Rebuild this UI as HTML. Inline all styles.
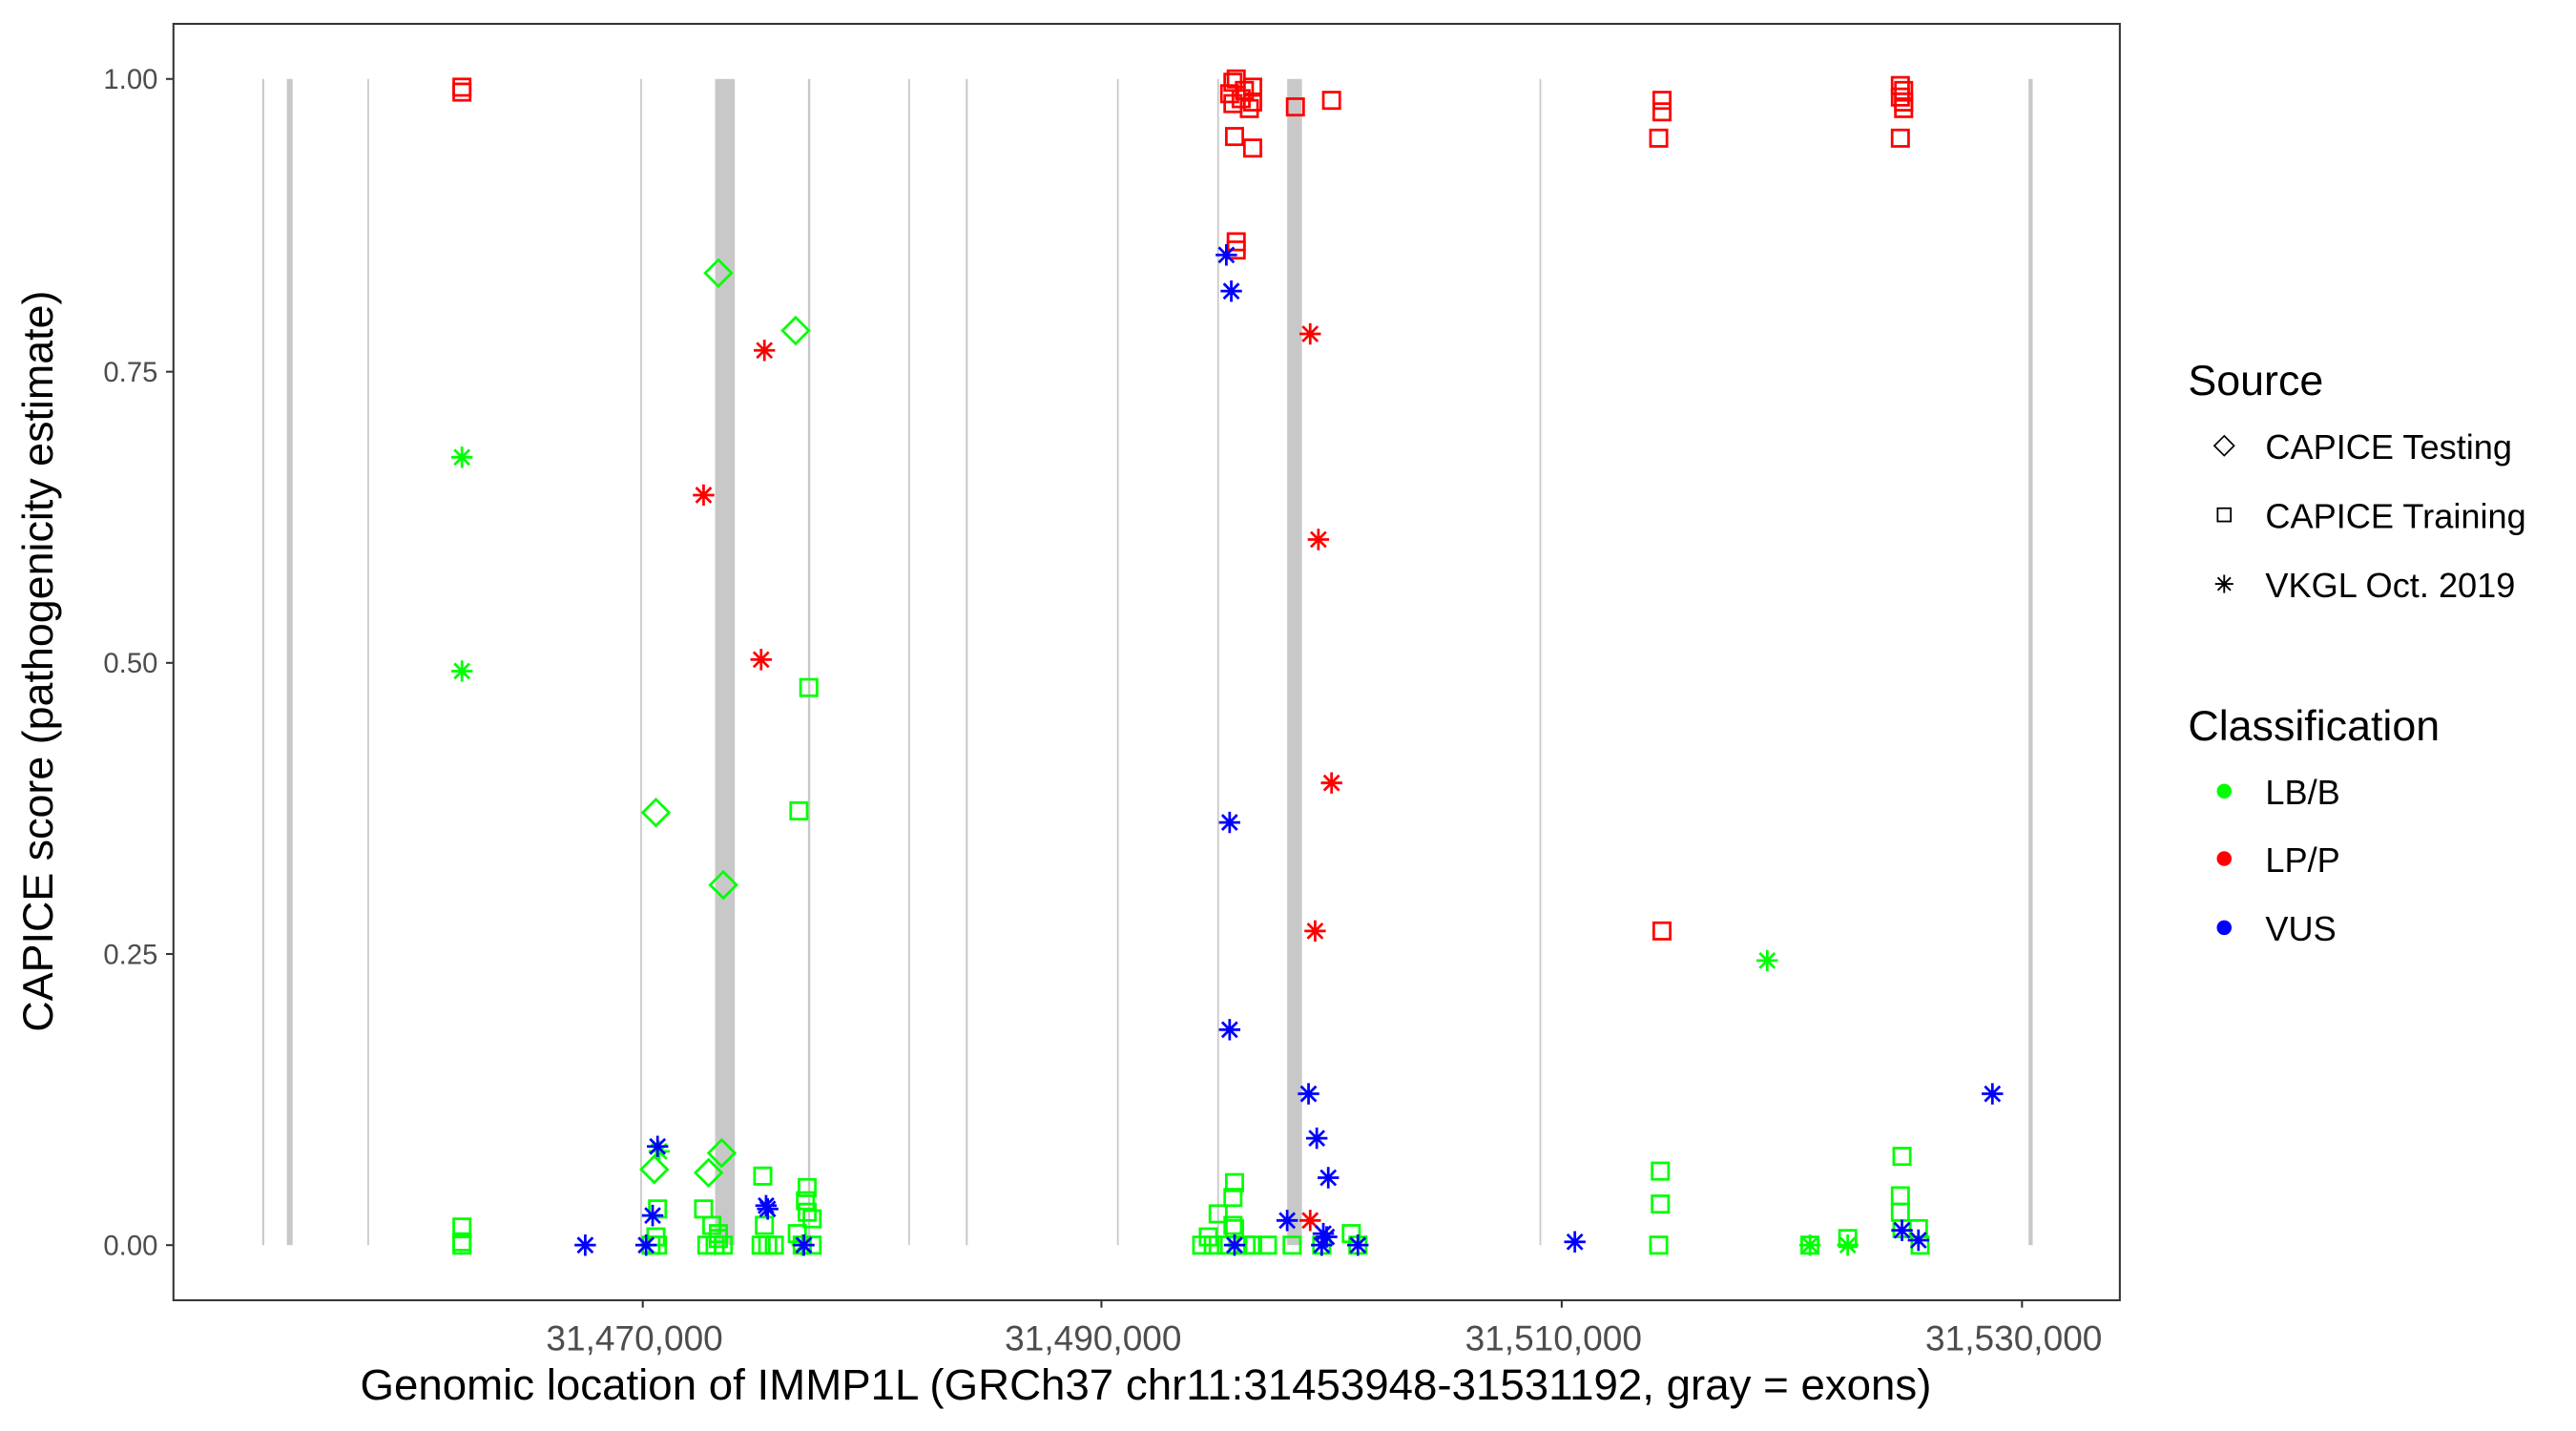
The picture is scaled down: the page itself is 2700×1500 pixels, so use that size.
<!DOCTYPE html>
<html><head><meta charset="utf-8"><style>
html,body{margin:0;padding:0;background:#fff;}
svg{display:block;}
</style></head><body>
<svg width="2700" height="1500" viewBox="0 0 1567 870" preserveAspectRatio="none" xmlns="http://www.w3.org/2000/svg" font-family="Liberation Sans, Arial, sans-serif">
<defs>
<rect id="sq" x="-5" y="-5" width="10" height="10" fill="none"/>
<path id="di" d="M0,-8L8,0L0,8L-8,0Z" fill="none"/>
<path id="st" d="M-6.5,0H6.5M0,-6.5V6.5M-4.6,-4.6L4.6,4.6M-4.6,4.6L4.6,-4.6" fill="none"/>
</defs>
<rect x="0" y="0" width="1567" height="870" fill="#fff"/>
<g fill="#c8c8c8">
<rect x="159.5" y="48" width="1.2" height="709"/>
<rect x="174.5" y="48" width="3.5" height="709"/>
<rect x="223.5" y="48" width="1" height="709"/>
<rect x="389.5" y="48" width="1" height="709"/>
<rect x="435" y="48" width="12" height="709"/>
<rect x="491.5" y="48" width="1.4" height="709"/>
<rect x="552.5" y="48" width="1" height="709"/>
<rect x="587.5" y="48" width="1.2" height="709"/>
<rect x="679.5" y="48" width="1" height="709"/>
<rect x="740.5" y="48" width="1" height="709"/>
<rect x="783" y="48" width="9" height="709"/>
<rect x="936.5" y="48" width="1" height="709"/>
<rect x="1234" y="48" width="2.5" height="709"/>
</g>
<g stroke-width="1.6">
<g stroke="#00ff00">
<use href="#sq" x="281" y="746"/><use href="#sq" x="281" y="755"/><use href="#sq" x="281" y="757"/>
<use href="#st" x="281" y="278"/><use href="#st" x="281" y="408"/>
<use href="#di" x="399" y="494"/><use href="#di" x="398" y="711"/>
<use href="#st" x="401" y="700"/>
<use href="#sq" x="400" y="735"/><use href="#sq" x="399" y="752"/><use href="#sq" x="400" y="757"/><use href="#sq" x="396" y="757"/>
<use href="#di" x="437" y="166"/><use href="#di" x="484" y="201"/><use href="#di" x="440" y="538"/><use href="#di" x="439" y="701"/><use href="#di" x="431" y="713"/>
<use href="#sq" x="464" y="715"/><use href="#sq" x="428" y="735"/><use href="#sq" x="433" y="745"/><use href="#sq" x="437" y="750"/><use href="#sq" x="430" y="757"/><use href="#sq" x="435" y="757"/><use href="#sq" x="440" y="757"/><use href="#sq" x="437" y="753"/>
<use href="#sq" x="492" y="418"/><use href="#sq" x="486" y="493"/><use href="#sq" x="491" y="722"/><use href="#sq" x="490" y="730"/><use href="#sq" x="491" y="737"/><use href="#sq" x="494" y="741"/><use href="#sq" x="485" y="750"/><use href="#sq" x="488" y="757"/><use href="#sq" x="494" y="757"/><use href="#sq" x="463" y="757"/><use href="#sq" x="467" y="757"/><use href="#sq" x="471" y="757"/><use href="#sq" x="465" y="745"/>
<use href="#st" x="488" y="757"/>
<use href="#sq" x="751" y="719"/><use href="#sq" x="750" y="728"/><use href="#sq" x="741" y="738"/><use href="#sq" x="750" y="745"/><use href="#sq" x="735" y="752"/><use href="#sq" x="731" y="757"/><use href="#sq" x="738" y="757"/><use href="#sq" x="746" y="757"/><use href="#sq" x="753" y="757"/><use href="#sq" x="758" y="757"/><use href="#sq" x="762" y="757"/><use href="#sq" x="771" y="757"/><use href="#sq" x="786" y="757"/><use href="#sq" x="804" y="757"/><use href="#sq" x="822" y="750"/><use href="#sq" x="826" y="757"/><use href="#sq" x="751" y="747"/>
<use href="#st" x="1075" y="584"/>
<use href="#sq" x="1010" y="712"/><use href="#sq" x="1010" y="732"/><use href="#sq" x="1009" y="757"/>
<use href="#sq" x="1101" y="757"/><use href="#sq" x="1124" y="753"/><use href="#sq" x="1157" y="703"/><use href="#sq" x="1156" y="727"/><use href="#sq" x="1156" y="737"/><use href="#sq" x="1157" y="747"/><use href="#sq" x="1167" y="747"/><use href="#sq" x="1168" y="757"/>
<use href="#st" x="1101" y="757"/><use href="#st" x="1124" y="757"/>
</g>
<g stroke="#ff0000">
<use href="#sq" x="281" y="53"/><use href="#sq" x="281" y="56"/>
<use href="#st" x="465" y="213"/><use href="#st" x="428" y="301"/><use href="#st" x="463" y="401"/>
<use href="#sq" x="750" y="50"/><use href="#sq" x="752" y="48"/><use href="#sq" x="757" y="55"/><use href="#sq" x="762" y="53"/><use href="#sq" x="748" y="57"/><use href="#sq" x="755" y="60"/><use href="#sq" x="762" y="62"/><use href="#sq" x="750" y="63"/><use href="#sq" x="760" y="66"/>
<use href="#sq" x="751" y="83"/><use href="#sq" x="762" y="90"/><use href="#sq" x="788" y="65"/><use href="#sq" x="810" y="61"/>
<use href="#sq" x="752" y="147"/><use href="#sq" x="752" y="152"/>
<use href="#st" x="797" y="203"/><use href="#st" x="802" y="328"/><use href="#st" x="810" y="476"/><use href="#st" x="800" y="566"/><use href="#st" x="797" y="742"/>
<use href="#sq" x="1011" y="61"/><use href="#sq" x="1011" y="68"/><use href="#sq" x="1009" y="84"/><use href="#sq" x="1011" y="566"/>
<use href="#sq" x="1156" y="52"/><use href="#sq" x="1158" y="55"/><use href="#sq" x="1156" y="59"/><use href="#sq" x="1158" y="62"/><use href="#sq" x="1158" y="66"/><use href="#sq" x="1156" y="84"/>
</g>
<g stroke="#0000ff">
<use href="#st" x="356" y="757"/><use href="#st" x="393" y="757"/><use href="#st" x="397" y="739"/><use href="#st" x="400" y="697"/>
<use href="#st" x="466" y="733"/><use href="#st" x="467" y="735"/><use href="#st" x="489" y="757"/>
<use href="#st" x="746" y="155"/><use href="#st" x="749" y="177"/><use href="#st" x="748" y="500"/><use href="#st" x="748" y="626"/>
<use href="#st" x="796" y="665"/><use href="#st" x="801" y="692"/><use href="#st" x="808" y="716"/><use href="#st" x="783" y="742"/><use href="#st" x="805" y="750"/><use href="#st" x="807" y="752"/><use href="#st" x="826" y="757"/><use href="#st" x="751" y="757"/><use href="#st" x="804" y="757"/>
<use href="#st" x="958" y="755"/><use href="#st" x="1157" y="748"/><use href="#st" x="1167" y="754"/><use href="#st" x="1212" y="665"/>
</g>
</g>
<rect x="105.5" y="14.5" width="1184" height="776" fill="none" stroke="#333" stroke-width="1.2"/>
<g stroke="#333" stroke-width="1.2">
<line x1="101" y1="48" x2="105" y2="48"/><line x1="101" y1="226" x2="105" y2="226"/><line x1="101" y1="403" x2="105" y2="403"/><line x1="101" y1="580" x2="105" y2="580"/><line x1="101" y1="757" x2="105" y2="757"/>
<line x1="391" y1="791" x2="391" y2="795"/><line x1="670" y1="791" x2="670" y2="795"/><line x1="950" y1="791" x2="950" y2="795"/><line x1="1230" y1="791" x2="1230" y2="795"/>
</g>
<g fill="#4d4d4d" font-size="17" text-anchor="end">
<text x="96" y="54">1.00</text><text x="96" y="232">0.75</text><text x="96" y="409">0.50</text><text x="96" y="586">0.25</text><text x="96" y="763">0.00</text>
</g>
<g fill="#4d4d4d" font-size="21.5" text-anchor="middle">
<text x="386" y="821">31,470,000</text><text x="665" y="821">31,490,000</text><text x="945" y="821">31,510,000</text><text x="1225" y="821">31,530,000</text>
</g>
<text x="697" y="851" font-size="26.5" text-anchor="middle" fill="#000">Genomic location of IMMP1L (GRCh37 chr11:31453948-31531192, gray = exons)</text>
<text transform="translate(32,402) rotate(-90)" font-size="26" text-anchor="middle" fill="#000">CAPICE score (pathogenicity estimate)</text>
<text x="1331" y="240" font-size="26" fill="#000">Source</text>
<g stroke="#000" stroke-width="1.3" transform="translate(1353,271) scale(0.75)"><use href="#di"/></g>
<g stroke="#000" stroke-width="1.3" transform="translate(1353,313) scale(0.8)"><use href="#sq"/></g>
<g stroke="#000" stroke-width="1.3" transform="translate(1353,355) scale(0.85)"><use href="#st"/></g>
<g font-size="21" fill="#000">
<text x="1378" y="279">CAPICE Testing</text>
<text x="1378" y="321">CAPICE Training</text>
<text x="1378" y="363">VKGL Oct. 2019</text>
</g>
<text x="1331" y="450" font-size="26" fill="#000">Classification</text>
<circle cx="1353" cy="481" r="4.5" fill="#00ff00"/>
<circle cx="1353" cy="522" r="4.5" fill="#ff0000"/>
<circle cx="1353" cy="564" r="4.5" fill="#0000ff"/>
<g font-size="21" fill="#000">
<text x="1378" y="489">LB/B</text>
<text x="1378" y="530">LP/P</text>
<text x="1378" y="572">VUS</text>
</g>
</svg>
</body></html>
